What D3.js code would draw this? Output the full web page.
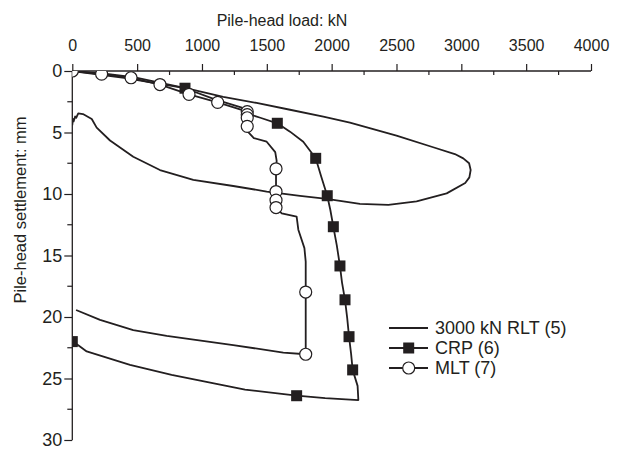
<!DOCTYPE html>
<html><head><meta charset="utf-8">
<script src="https://cdn.jsdelivr.net/npm/d3@7/dist/d3.min.js"></script>
<style>
body{margin:0;background:#fff;}
text{font-family:"Liberation Sans",Arial,Helvetica,sans-serif;fill:#231f20;}
</style></head>
<body><svg id="c" width="618" height="453"></svg>
<script>
// ---- data ----
const xTicks = [0,500,1000,1500,2000,2500,3000,3500,4000];
const yTicks = [0,5,10,15,20,25,30];
const seriesNames = ["3000 kN RLT (5)","CRP (6)","MLT (7)"];

const rltLoad   = [0,250,500,900,1164,1421,1679,1936,2141,2500,2783,2950,3015,3060,3072,3062,3030,2887,2655,2437,2218,1962,1756,1499,1241,933,676,470,291,188,150,82,46,30,22,10,5,0];
const rltSettle = [0,0.22,0.55,1.45,2.1,2.6,3.15,3.7,4.2,5.25,6.2,6.75,7.1,7.5,8.05,8.65,9.1,9.95,10.6,10.88,10.8,10.4,10.15,9.8,9.35,8.86,8.05,6.97,5.65,4.6,3.9,3.5,3.45,3.8,3.7,4.1,3.9,4.4];

const crpLoad   = [0,400,869,1100,1345,1345,1450,1581,1679,1781,1877,1920,1966,1990,2013,2040,2064,2080,2103,2120,2134,2150,2162,2200,2206,1950,1730,1332,766,445,111,46,0];
const crpSettle = [0,0.55,1.4,2.3,3.1,3.44,3.8,4.25,4.93,5.75,7.1,8.6,10.14,11.3,12.66,14.2,15.85,17.2,18.6,20.1,21.6,23,24.3,25.6,26.75,26.6,26.4,25.9,24.7,23.9,22.8,22.3,22.0];
const crpMarks  = [2,5,7,10,12,14,16,18,20,22,26,32];

const mltLoad   = [0,226,453,676,900,1121,1349,1349,1349,1349,1355,1400,1499,1565,1576,1571,1571,1571,1571,1615,1730,1743,1790,1800,1800,1800,1627,1241,728,470,214,29];
const mltSettle = [0,0.25,0.55,1.1,1.9,2.55,3.3,3.55,3.8,4.5,4.95,5.45,5.75,6.6,7.3,7.95,9.8,10.5,11.1,11.57,11.84,12.9,14.4,15.5,17.97,23.03,22.9,22.28,21.54,21.06,20.24,19.43];
const mltMarks  = [0,1,2,3,4,5,6,7,8,9,15,16,17,18,24,25];

// ---- layout ----
const svg = d3.select("#c");
const x = d3.scaleLinear().domain([0,4000]).range([72.3,591]);
const y = d3.scaleLinear().domain([0,30]).range([71,440]);
const ink = "#231f20";

svg.append("defs").append("clipPath").attr("id","clip")
  .append("rect").attr("x",x(0)).attr("y",y(0)).attr("width",x(4000)-x(0)+10).attr("height",y(30)-y(0)+10);

// top axis
const gx = svg.append("g").attr("transform",`translate(0,${y(0)})`);
gx.call(d3.axisTop(x).tickValues(xTicks).tickSize(7).tickFormat(d3.format("d")));
gx.append("g").selectAll("line").data(d3.range(250,4000,500)).join("line")
  .attr("x1",d=>x(d)).attr("x2",d=>x(d)).attr("y1",0).attr("y2",4).attr("stroke",ink).attr("stroke-width",1.2);
gx.select(".domain").attr("d",`M${x(0)},0H${x(4000)}`).attr("stroke",ink).attr("stroke-width",1.3);
gx.selectAll(".tick line").attr("stroke",ink).attr("stroke-width",1.2);
gx.selectAll(".tick text").attr("y",-20).attr("font-size",16).style("fill",ink);

// left axis
const gy = svg.append("g").attr("transform",`translate(${x(0)},0)`);
gy.call(d3.axisLeft(y).tickValues(yTicks).tickSize(8));
gy.append("g").selectAll("line").data(d3.range(2.5,30,5)).join("line")
  .attr("y1",d=>y(d)).attr("y2",d=>y(d)).attr("x1",0).attr("x2",-5).attr("stroke",ink).attr("stroke-width",1.2);
gy.select(".domain").attr("d",`M0,${y(0)}V${y(30)}`).attr("stroke",ink).attr("stroke-width",1.3);
gy.selectAll(".tick line").attr("stroke",ink).attr("stroke-width",1.2);
gy.selectAll(".tick text").attr("x",-10).attr("font-size",18).style("fill",ink);

// titles
svg.append("text").attr("x",282).attr("y",26).attr("text-anchor","middle").attr("font-size",16).text("Pile-head load: kN");
svg.append("text").attr("transform","translate(26,210) rotate(-90)").attr("text-anchor","middle").attr("font-size",16.5).text("Pile-head settlement: mm");

// plot
const plot = svg.append("g").attr("clip-path","url(#clip)");
const line = d3.line().x(d=>x(d[0])).y(d=>y(d[1]));
function zip(a,b){return a.map((v,i)=>[v,b[i]]);}
const rlt = zip(rltLoad,rltSettle), crp = zip(crpLoad,crpSettle), mlt = zip(mltLoad,mltSettle);

[rlt,crp,mlt].forEach(s=>{
  plot.append("path").datum(s).attr("d",line).attr("fill","none").attr("stroke",ink).attr("stroke-width",1.8).attr("stroke-linejoin","round");
});
const sq = 11, r = 6;
plot.selectAll(".sq").data(crpMarks.map(i=>crp[i])).join("rect").attr("class","sq")
  .attr("x",d=>x(d[0])-sq/2).attr("y",d=>y(d[1])-sq/2).attr("width",sq).attr("height",sq).attr("fill",ink);
plot.selectAll(".ci").data(mltMarks.map(i=>mlt[i])).join("circle").attr("class","ci")
  .attr("cx",d=>x(d[0])).attr("cy",d=>y(d[1])).attr("r",r).attr("fill","#fff").attr("stroke",ink).attr("stroke-width",1.2);

// legend
const lg = svg.append("g");
const ly = [328,348,368];
seriesNames.forEach((n,i)=>{
  lg.append("line").attr("x1",389).attr("x2",428).attr("y1",ly[i]).attr("y2",ly[i]).attr("stroke",ink).attr("stroke-width",1.8);
  if(i===1) lg.append("rect").attr("x",408.7-sq/2).attr("y",ly[i]-sq/2).attr("width",sq).attr("height",sq).attr("fill",ink);
  if(i===2) lg.append("circle").attr("cx",408.7).attr("cy",ly[i]).attr("r",r).attr("fill","#fff").attr("stroke",ink).attr("stroke-width",1.2);
  lg.append("text").attr("x",435).attr("y",ly[i]+6).attr("font-size",18).text(n);
});
</script></body></html>
